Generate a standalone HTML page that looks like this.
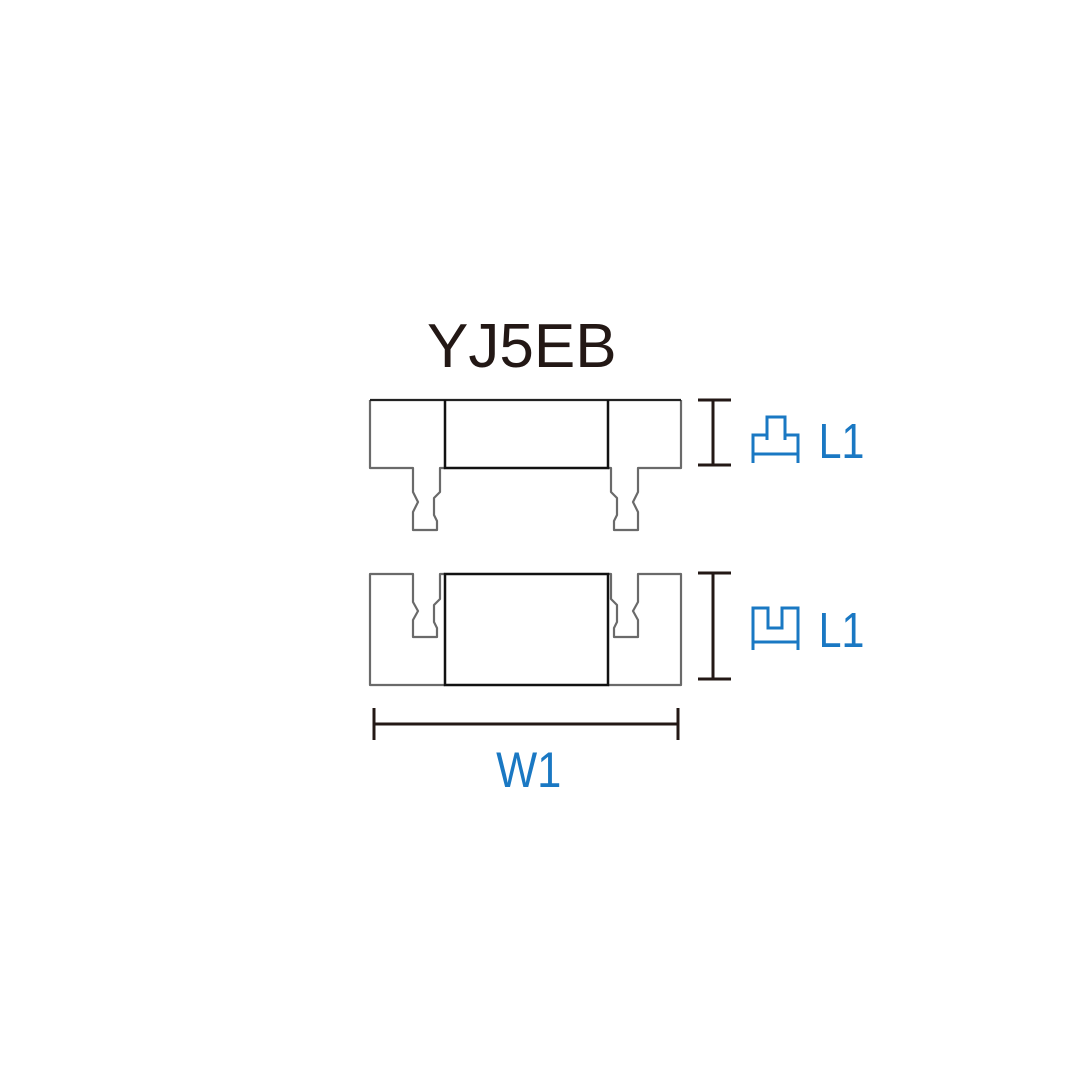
<!DOCTYPE html>
<html>
<head>
<meta charset="utf-8">
<style>
html,body{margin:0;padding:0;background:#fff;}
svg{display:block;}
</style>
</head>
<body>
<svg width="1080" height="1080" viewBox="0 0 1080 1080" xmlns="http://www.w3.org/2000/svg">
<rect width="1080" height="1080" fill="#fff"/>
<!-- Title -->
<text x="427" y="367" font-family="Liberation Sans, Arial, sans-serif" font-size="62" fill="#231815">YJ5EB</text>

<!-- Top piece -->
<path d="M445,468 H440 V492 L434,498 V515 L437,521 V530 H413 V512 L418,502 L413,492 V468 H370 V400" fill="none" stroke="#6a6a6a" stroke-width="2.2" stroke-linejoin="round"/>
<path d="M608,468 H611 V492 L617,498 V515 L614,521 V530 H638 V512 L633,502 L638,492 V468 H681 V400" fill="none" stroke="#6a6a6a" stroke-width="2.2" stroke-linejoin="round"/>
<path d="M370,400 H681" stroke="#222" stroke-width="2.2" fill="none"/>
<path d="M445,400 V468 H608 V400" stroke="#111" stroke-width="2.5" fill="none"/>

<!-- Bottom piece -->
<path d="M445,574 H440 V599 L434,605 V622 L437,628 V637 H413 V620 L418,611 L413,602 V574 H370 V685 H445" fill="none" stroke="#6a6a6a" stroke-width="2.2" stroke-linejoin="round"/>
<path d="M608,574 H611 V599 L617,605 V622 L614,628 V637 H638 V620 L633,611 L638,602 V574 H681 V685 H608" fill="none" stroke="#6a6a6a" stroke-width="2.2" stroke-linejoin="round"/>
<rect x="445" y="574" width="163" height="111" fill="none" stroke="#111" stroke-width="2.5"/>

<!-- Dimension bars -->
<g stroke="#231815" stroke-width="3" fill="none">
  <path d="M713,400 V465 M698,400 H731 M698,465 H731"/>
  <path d="M713,573 V679 M698,573 H731 M698,679 H731"/>
  <path d="M374,724 H678 M374,708 V740 M678,708 V740"/>
</g>

<!-- Blue icons -->
<g stroke="#1a78c3" stroke-width="3" fill="none">
  <path d="M753,463 V435 H767 V417 H785 V435 H798 V463"/>
  <path d="M753,454 H798"/>
  <path d="M767,435 V440 M785,435 V440"/>
  <path d="M753,650 V608 H768 V628 H782 V608 H798 V650"/>
  <path d="M753,642 H798"/>
</g>

<!-- Labels -->
<g font-family="Liberation Sans, Arial, sans-serif" fill="#1a78c3">
  <text x="818" y="458" font-size="49" transform="translate(822,0) scale(0.84,1) translate(-822,0)">L1</text>
  <text x="818" y="647" font-size="49" transform="translate(822,0) scale(0.84,1) translate(-822,0)">L1</text>
  <text x="496" y="787" font-size="50" transform="translate(497,0) scale(0.87,1) translate(-497,0)">W1</text>
</g>
</svg>
</body>
</html>
